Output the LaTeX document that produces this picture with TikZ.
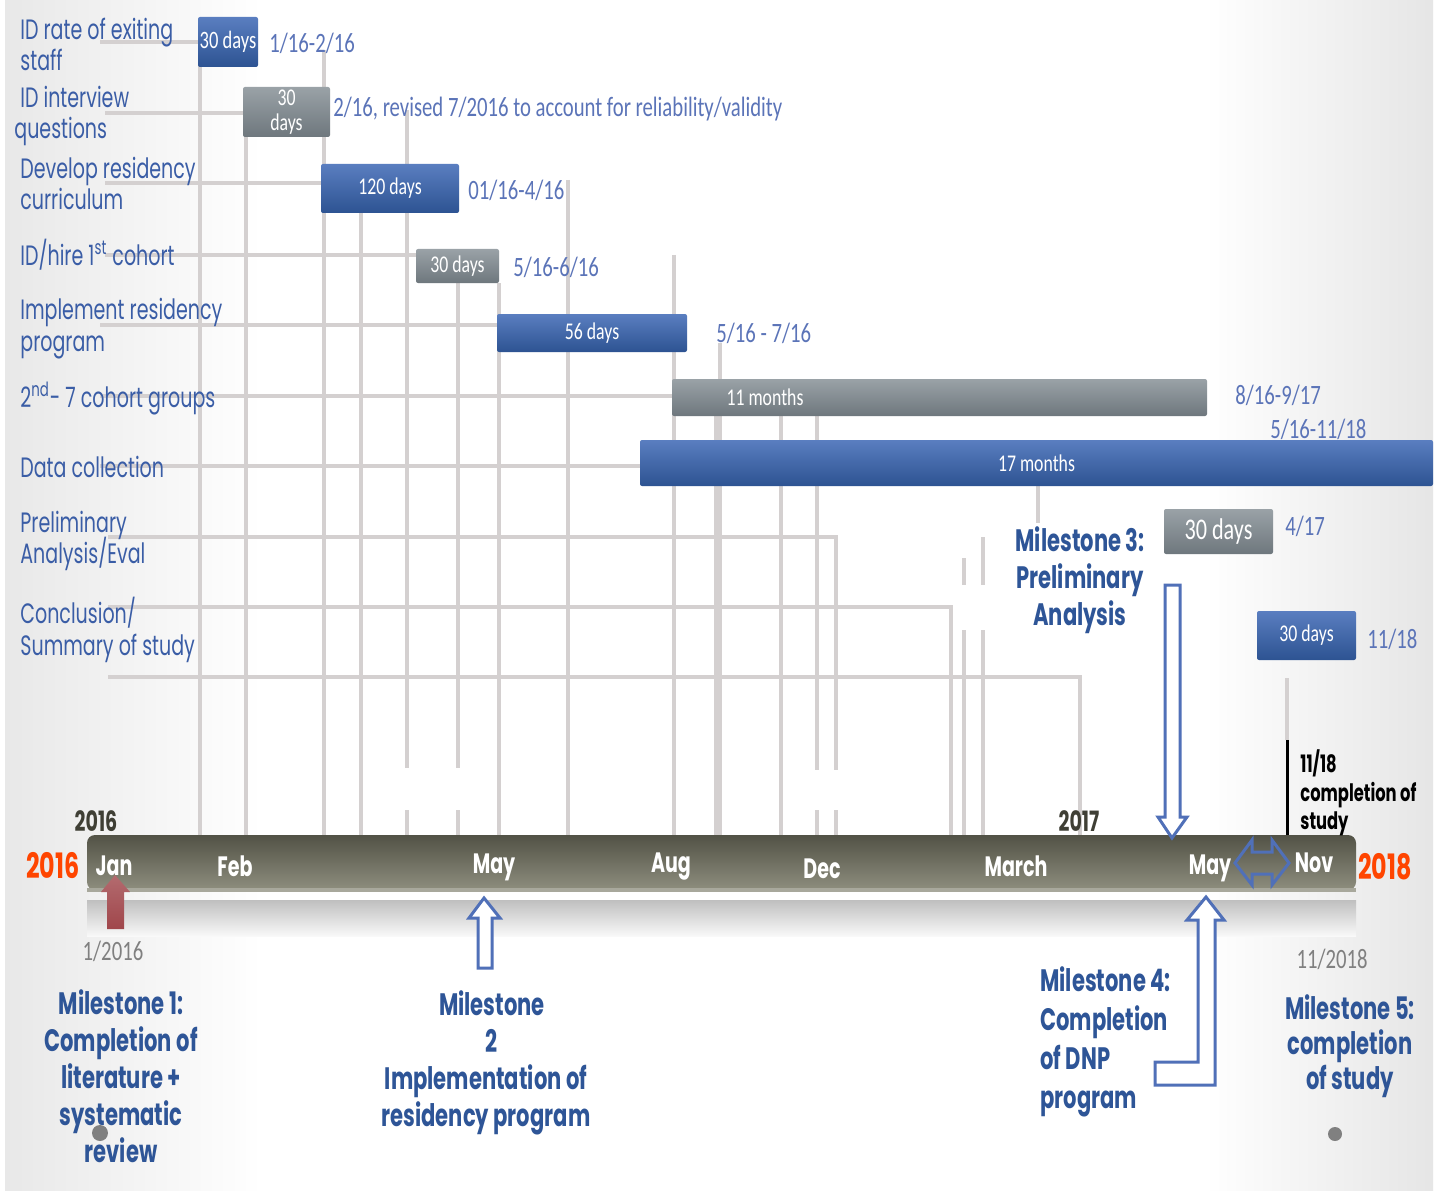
\documentclass[tikz,border=0pt]{standalone}
\usepackage{fontspec}
\setmainfont{Poppins}[FakeStretch=0.68]
\newfontfamily\datefont{Carlito}[FakeStretch=0.74]
\definecolor{lblue}{HTML}{3A5DA6}
\definecolor{dblue}{HTML}{5B74B8}
\definecolor{mblue}{HTML}{2E5597}
\definecolor{gridc}{HTML}{D4D0D0}
\definecolor{arrowc}{HTML}{5070B8}
\definecolor{redo}{HTML}{FF4500}
\definecolor{bluetop}{HTML}{5A7EC0}
\definecolor{bluebot}{HTML}{2D5392}
\definecolor{graytop}{HTML}{9AA2A7}
\definecolor{graybot}{HTML}{6E777D}
\definecolor{tltop}{HTML}{525246}
\definecolor{tlbot}{HTML}{8E8E7E}
\definecolor{tledge}{HTML}{A8A89C}
\definecolor{yeardark}{HTML}{3F3F35}
\definecolor{redarrow}{HTML}{A0464B}
\pgfdeclarehorizontalshading{bgshade}{100bp}{color(0bp)=(gray!20); color(25bp)=(gray!18); color(34bp)=(white); color(67bp)=(white); color(75bp)=(gray!20); color(100bp)=(gray!22)}
\tikzset{
  gridl/.style={draw=gridc, line width=2pt},
  bar/.style={rounded corners=1pt, inner sep=0pt, text=white, font=\datefont\fontsize{12}{12.5}\selectfont, align=center},
  bluebar/.style={bar, top color=bluetop, bottom color=bluebot},
  graybar/.style={bar, top color=graytop, bottom color=graybot},
  tasklbl/.style={anchor=base west, text=lblue, font=\fontsize{14}{16}\selectfont, inner sep=0pt},
  datelbl/.style={anchor=base west, text=dblue, font=\datefont\fontsize{14}{16}\selectfont, inner sep=0pt},
  mstone/.style={text=mblue, font=\bfseries\fontsize{15.5}{18.5}\selectfont, align=center, inner sep=0pt},
  month/.style={text=white, font=\bfseries\fontsize{14}{16}\selectfont, inner sep=0pt},
  hollow/.style={draw=arrowc, line width=1.5pt, line join=miter},
}
\begin{document}
\begin{tikzpicture}[x=0.5pt,y=-0.5pt]
\useasboundingbox (0,0) rectangle (1442,1193);
\fill[white] (0,0) rectangle (1442,1193);
\shade[shading=bgshade] (5,0) rectangle (1433,1190);

% horizontal grid rows
\draw[gridl] (100,42) -- (200,42);
\draw[gridl] (105,113) -- (245,113);
\draw[gridl] (105,183) -- (322,183);
\draw[gridl] (105,255) -- (417,255);
\draw[gridl] (100,325) -- (497,325);
\draw[gridl] (100,396) -- (673,396);
\draw[gridl] (100,466) -- (640,466);
\draw[gridl] (108,537) -- (836,537) -- (836,770);
\draw[gridl] (108,607) -- (951,607) -- (951,835);
\draw[gridl] (108,677) -- (1080,677) -- (1080,835);
% vertical grid lines
\draw[gridl] (200,60) -- (200,835);
\draw[gridl] (246,130) -- (246,835);
\draw[gridl] (324,50) -- (324,835);
\draw[gridl] (361,205) -- (361,835);
\draw[gridl] (407,110) -- (407,768);
\draw[gridl] (407,810) -- (407,835);
\draw[gridl] (458,275) -- (458,768);
\draw[gridl] (458,810) -- (458,835);
\draw[gridl] (499,283) -- (499,835);
\draw[gridl] (568,180) -- (568,835);
\draw[gridl] (674,255) -- (674,835);
\draw[gridl] (716,410) -- (716,835);
\draw[gridl] (720,343) -- (720,835);
\draw[gridl] (781,410) -- (781,835);
\draw[gridl] (817,410) -- (817,770);
\draw[gridl] (817,810) -- (817,835);
\draw[gridl] (836,810) -- (836,835);
\draw[gridl] (964,558) -- (964,585);
\draw[gridl] (964,630) -- (964,835);
\draw[gridl] (983,537) -- (983,585);
\draw[gridl] (983,630) -- (983,835);
\draw[gridl] (1038,480) -- (1038,523);
\draw[gridl] (1287,678) -- (1287,740);
\draw[line width=1.5pt] (1287,740) -- (1287,835);

% task labels
\node[tasklbl] (t1a) at (20,40) {ID rate of exiting};
\node[tasklbl] (t1b) at (20,71) {staff};
\node[tasklbl] (t2a) at (20,108) {ID interview};
\node[tasklbl] (t2b) at (14,139) {questions};
\node[tasklbl] (t3a) at (20,178) {Develop residency};
\node[tasklbl] (t3b) at (20,210) {curriculum};
\node[tasklbl] (t4) at (20,265) {ID/hire 1\textsuperscript{st} cohort};
\node[tasklbl] (t5a) at (20,319) {Implement residency};
\node[tasklbl] (t5b) at (20,351) {program};
\node[tasklbl] (t6) at (20,407) {2\textsuperscript{nd}- 7 cohort groups};
\node[tasklbl] (t7) at (20,477) {Data collection};
\node[tasklbl] (t8a) at (20,532) {Preliminary};
\node[tasklbl] (t8b) at (20,563) {Analysis/Eval};
\node[tasklbl] (t9a) at (20,623) {Conclusion/};
\node[tasklbl] (t9b) at (20,655) {Summary of study};

% bars
\node[bluebar, minimum width=30pt, minimum height=25pt, font=\datefont\fontsize{12.5}{13}\selectfont] (b1) at (228,42) {30 days};
\node[graybar, minimum width=43.5pt, minimum height=25pt] (b2) at (286.5,112) {30\\days};
\node[bluebar, minimum width=69pt, minimum height=24.5pt] (b3) at (390,188.5) {120 days};
\node[graybar, minimum width=41.5pt, minimum height=17pt] (b4) at (457.5,266) {30 days};
\node[bluebar, minimum width=95pt, minimum height=19pt] (b5) at (592,333) {56 days};
\node[graybar, minimum width=267.5pt, minimum height=18.5pt] (b6) at (939.5,397.5) {};
\node[bar] (b6t) at (765,397) {11 months};
\node[bluebar, minimum width=396.5pt, minimum height=23pt] (b7) at (1036.5,463) {17 months};
\node[graybar, minimum width=54.5pt, minimum height=22.5pt, font=\datefont\fontsize{15}{16}\selectfont] (b8) at (1218.5,531.5) {30 days};
\node[bluebar, minimum width=49.5pt, minimum height=24.5pt] (b9) at (1306.5,635.5) {30 days};

% date labels
\node[datelbl] (d1) at (269,53) {1/16-2/16};
\node[datelbl] (d2) at (333,117) {2/16, revised 7/2016 to account for reliability/validity};
\node[datelbl] (d3) at (468,199) {01/16-4/16};
\node[datelbl] (d4) at (513,277) {5/16-6/16};
\node[datelbl] (d5) at (716,343) {5/16 - 7/16};
\node[datelbl] (d6) at (1235,404) {8/16-9/17};
\node[datelbl] (d7) at (1270,438) {5/16-11/18};
\node[datelbl] (d8) at (1285,535) {4/17};
\node[datelbl] (d9) at (1367,648) {11/18};

% timeline
\shade[top color=tltop, bottom color=tlbot, rounded corners=4pt] (87,835) rectangle (1356,890);
\fill[tledge] (87,888) rectangle (1356,892);
\shade[top color=gray!50, bottom color=gray!5] (87,900) rectangle (1356,936);

\node[month] (mJan) at (114,866) {Jan};
\node[month] (mFeb) at (235,866) {Feb};
\node[month] (mMay) at (494,867) {May};
\node[month] (mAug) at (671,867) {Aug};
\node[month] (mDec) at (822,869) {Dec};
\node[month] (mMar) at (1016,866) {March};
\node[month] (mMay2) at (1210,868) {May};
\node[month] (mNov) at (1314,863) {Nov};

\node[text=yeardark, font=\bfseries\fontsize{14}{16}\selectfont, inner sep=0pt] (y2016) at (96,821) {2016};
\node[text=yeardark, font=\bfseries\fontsize{14}{16}\selectfont, inner sep=0pt] (y2017) at (1079,821) {2017};
\node[text=redo, font=\bfseries\fontsize{17.5}{19}\selectfont, inner sep=0pt, anchor=east] (r2016) at (80,866) {2016};
\node[text=redo, font=\bfseries\fontsize{17.5}{19}\selectfont, inner sep=0pt, anchor=west] (r2018) at (1358,867) {2018};

% arrows
\shade[top color=redarrow!80!white, bottom color=redarrow] (115,875) -- (130,892) -- (124,892) -- (124,929) -- (107,929) -- (107,892) -- (101,892) -- cycle;
\filldraw[hollow, fill=white] (484,898) -- (500,918) -- (492,918) -- (492,968) -- (478,968) -- (478,918) -- (469,918) -- cycle;
\filldraw[hollow, fill=white] (1165,585) -- (1180,585) -- (1180,817) -- (1187,817) -- (1172,838) -- (1158,817) -- (1165,817) -- cycle;
\draw[hollow] (1235,863) -- (1252,840) -- (1252,852) -- (1272,852) -- (1272,840) -- (1289,863) -- (1272,885) -- (1272,874) -- (1252,874) -- (1252,885) -- cycle;
\filldraw[hollow, fill=white] (1206,897) -- (1224,920) -- (1215,920) -- (1215,1085) -- (1155,1085) -- (1155,1062) -- (1198,1062) -- (1198,920) -- (1187,920) -- cycle;

% date under timeline
\node[text=gray, font=\datefont\fontsize{14}{16}\selectfont, inner sep=0pt] (dd1) at (113,951) {1/2016};
\node[text=gray, font=\datefont\fontsize{14}{16}\selectfont, inner sep=0pt] (dd2) at (1332,959) {11/2018};

% milestones
\node[mstone] (ms1) at (121,1076) {Milestone 1:\\Completion of\\literature +\\systematic\\review};
\node[mstone] (ms2a) at (492,1021.5) {Milestone\\2};
\node[mstone] (ms2b) at (486,1099.5) {Implementation of\\residency program};
\node[mstone] (ms3) at (1080,580) {Milestone 3:\\Preliminary\\Analysis};
\node[mstone, align=left, anchor=west, font=\bfseries\fontsize{15.5}{19.5}\selectfont] (ms4) at (1040,1041.5) {Milestone 4:\\Completion\\of DNP\\program};
\node[mstone, font=\bfseries\fontsize{15.5}{17.5}\selectfont] (ms5) at (1350,1046) {Milestone 5:\\completion\\of study};
\node[align=left, anchor=west, inner sep=0pt, font=\bfseries\fontsize{12}{14.25}\selectfont] (c1118) at (1300,793) {11/18\\completion of\\study};

% dots
\fill[gray] (100,1133) circle (4pt);
\fill[gray] (1335,1134) circle (3.5pt);
\end{tikzpicture}
\end{document}
